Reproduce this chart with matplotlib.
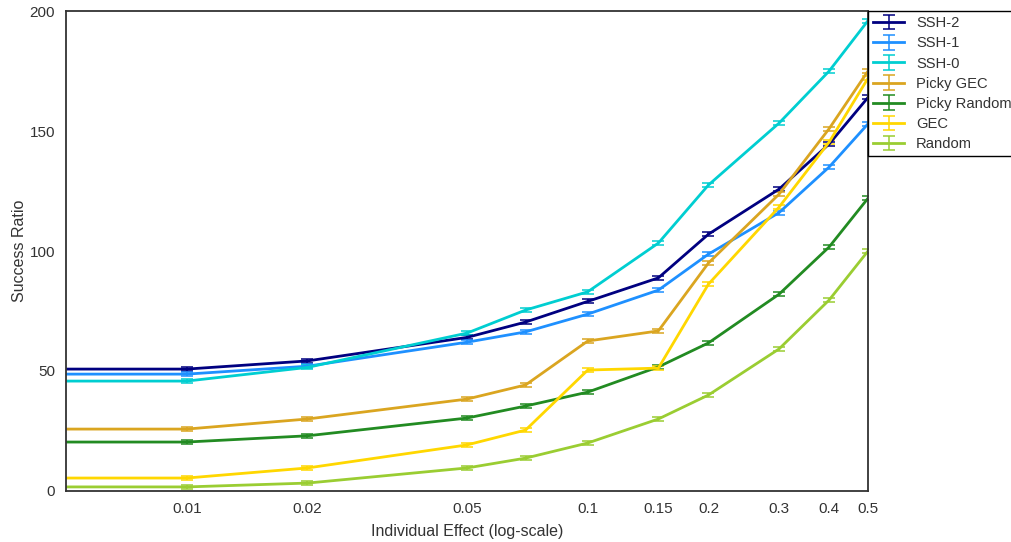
import matplotlib.pyplot as plt
import numpy as np

plt.rcParams['font.family'] = ['Liberation Sans', 'DejaVu Sans']

effects = [0.001, 0.01, 0.02, 0.05, 0.07, 0.1, 0.15, 0.2, 0.3, 0.4, 0.5]
xticks = [0.01, 0.02, 0.05, 0.1, 0.15, 0.2, 0.3, 0.4, 0.5]
xtick_labels = ['0.01', '0.02', '0.05', '0.1', '0.15', '0.2', '0.3', '0.4', '0.5']

ssh2 = [50.8, 50.8, 54.2, 64.0, 70.4, 79.0, 88.8, 107.0, 125.8, 144.6, 164.0]
ssh1 = [48.7, 48.7, 52.0, 62.0, 66.3, 73.7, 83.7, 98.7, 116.0, 135.0, 153.0]
ssh0 = [45.8, 45.8, 51.5, 65.8, 75.4, 83.0, 103.3, 127.5, 153.3, 175.0, 196.0]
picky_gec = [25.8, 25.8, 30.0, 38.3, 44.2, 62.5, 66.7, 95.0, 123.7, 151.0, 175.0]
picky_random = [20.4, 20.4, 23.0, 30.4, 35.4, 41.2, 51.7, 61.7, 82.0, 101.7, 122.0]
gec = [5.4, 5.4, 9.6, 19.2, 25.4, 50.4, 51.2, 86.2, 118.3, 145.4, 172.0]
rand = [1.7, 1.7, 3.3, 9.6, 13.7, 20.0, 30.0, 40.0, 59.2, 79.6, 100.0]

series = [
    ('SSH-2', ssh2, 'navy'),
    ('SSH-1', ssh1, 'dodgerblue'),
    ('SSH-0', ssh0, 'darkturquoise'),
    ('Picky GEC', picky_gec, 'goldenrod'),
    ('Picky Random', picky_random, 'forestgreen'),
    ('GEC', gec, 'gold'),
    ('Random', rand, 'yellowgreen'),
]
err = 0.8

fig = plt.figure(figsize=(10.11, 5.42), dpi=100)
ax = fig.add_axes([0.0653, 0.0941, 0.7933, 0.8856])

for name, vals, color in series:
    ax.errorbar(effects, vals, yerr=err, label=name, color=color, lw=2.0,
                capsize=4, elinewidth=1.1, capthick=1.1)

ax.set_xscale('log')
ax.set_xlim(0.005, 0.5)
ax.set_ylim(0, 200)
ax.set_xticks(xticks)
ax.set_xticklabels(xtick_labels)
ax.minorticks_off()
ax.set_yticks([0, 50, 100, 150, 200])
ax.tick_params(length=0, labelsize=11, colors='#333333', pad=8)
for s in ax.spines.values():
    s.set_color('#333333')
    s.set_linewidth(1.3)

ax.set_xlabel('Individual Effect (log-scale)', fontsize=11.5, color='#333333', labelpad=6)
ax.set_ylabel('Success Ratio', fontsize=11.5, color='#333333', labelpad=2)

leg = ax.legend(loc='upper left', bbox_to_anchor=(1.0, 1.0), borderaxespad=0,
                fontsize=10.6, fancybox=False, framealpha=1, handlelength=2.1,
                handletextpad=0.8, labelspacing=0.42, borderpad=0.35)
leg.get_frame().set_edgecolor('black')
for t in leg.get_texts():
    t.set_color('#333333')

fig.savefig('out.png', dpi=100)
